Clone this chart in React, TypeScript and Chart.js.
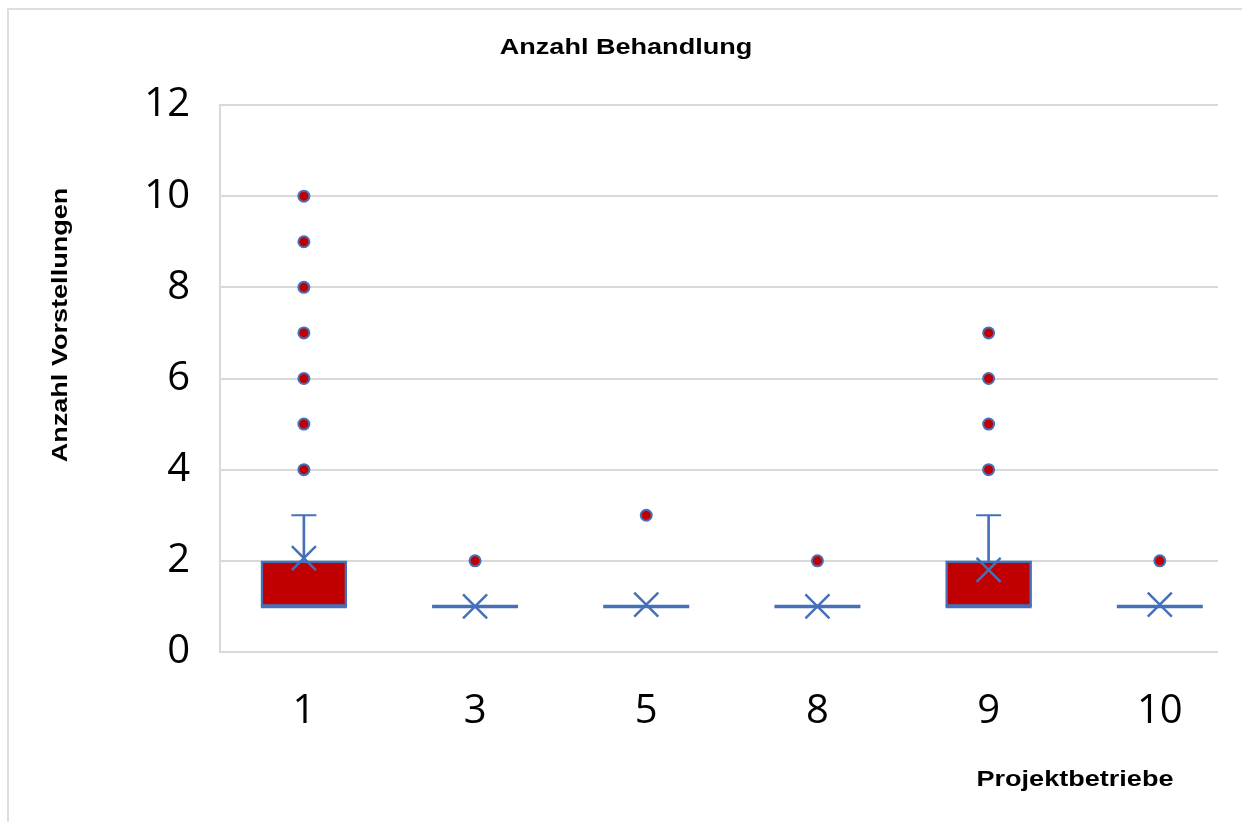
import React, { useEffect, useRef } from "react";
import { Chart, registerables } from "chart.js";

Chart.register(...registerables);

const categories = ["1", "3", "5", "8", "9", "10"];
const q1 = [1, 1, 1, 1, 1, 1];
const q3 = [2, 1, 1, 1, 2, 1];
const median = [1, 1, 1, 1, 1, 1];
const whiskerMin = [1, 1, 1, 1, 1, 1];
const whiskerMax = [3, 1, 1, 1, 3, 1];
const means = [2.06, 1.0, 1.04, 1.0, 1.8, 1.04];
const outliers: number[][] = [
  [4, 5, 6, 7, 8, 9, 10],
  [2],
  [3],
  [2],
  [4, 5, 6, 7],
  [2],
];
const yTicks = [0, 2, 4, 6, 8, 10, 12];

const TITLE = "Anzahl Behandlung";
const Y_TITLE = "Anzahl Vorstellungen";
const X_TITLE = "Projektbetriebe";

const RED = "#c00000";
const BLUE = "#4670b9";
const GRID = "#d9d9d9";

const titlesPlugin = {
  id: "customTitles",
  beforeDraw(chart: any) {
    const ctx = chart.ctx;
    ctx.save();
    ctx.strokeStyle = "#dedede";
    ctx.lineWidth = 2;
    ctx.beginPath();
    ctx.moveTo(8, 822);
    ctx.lineTo(8, 9);
    ctx.lineTo(1242, 9);
    ctx.stroke();
    ctx.restore();
  },
  afterDraw(chart: any) {
    const ctx = chart.ctx;
    const sx = 1.23;
    ctx.save();
    ctx.fillStyle = "#000";
    ctx.font = "bold 22px 'Liberation Sans', Arial, sans-serif";
    ctx.textAlign = "center";
    ctx.textBaseline = "alphabetic";

    ctx.save();
    ctx.translate(626, 54);
    ctx.scale(sx, 1);
    ctx.fillText(TITLE, 0, 0);
    ctx.restore();

    ctx.save();
    ctx.translate(67, 325);
    ctx.rotate(-Math.PI / 2);
    ctx.scale(sx, 1);
    ctx.fillText(Y_TITLE, 0, 0);
    ctx.restore();

    ctx.save();
    ctx.translate(1075, 786);
    ctx.scale(sx, 1);
    ctx.fillText(X_TITLE, 0, 0);
    ctx.restore();

    ctx.restore();
  },
};

export default function App() {
  const ref = useRef<HTMLCanvasElement | null>(null);

  useEffect(() => {
    if (!ref.current) return;
    const boxData = categories.map((_, i) => ({ x: i, y: [q1[i], q3[i]] }));
    const whiskerData = categories.map((_, i) => ({ x: i, y: [q3[i], whiskerMax[i]] }));
    const lowWhiskerData = categories.map((_, i) => ({ x: i, y: [whiskerMin[i], q1[i]] }));
    const medianData = categories.map((_, i) => ({ x: i, y: median[i] }));
    const capData = categories
      .map((_, i) => ({ x: i, y: whiskerMax[i], show: whiskerMax[i] > q3[i] }))
      .filter((d) => d.show)
      .map((d) => ({ x: d.x, y: d.y }));
    const lowCapData = categories
      .map((_, i) => ({ x: i, y: whiskerMin[i], show: whiskerMin[i] < q1[i] }))
      .filter((d) => d.show)
      .map((d) => ({ x: d.x, y: d.y }));
    const meanData = categories.map((_, i) => ({ x: i, y: means[i] }));
    const outlierData: { x: number; y: number }[] = [];
    outliers.forEach((arr, i) => arr.forEach((v) => outlierData.push({ x: i, y: v })));

    const chart = new Chart(ref.current, {
      type: "bar",
      data: {
        datasets: [
          {
            type: "bar",
            label: "box",
            data: boxData as any,
            backgroundColor: RED,
            borderColor: BLUE,
            borderWidth: 2.5,
            borderSkipped: false,
            barThickness: 86,
            grouped: false,
            order: 7,
          } as any,
          {
            type: "bar",
            label: "whisker",
            data: whiskerData as any,
            backgroundColor: BLUE,
            borderWidth: 0,
            barThickness: 2,
            grouped: false,
            order: 6,
          } as any,
          {
            type: "bar",
            label: "lowWhisker",
            data: lowWhiskerData as any,
            backgroundColor: BLUE,
            borderWidth: 0,
            barThickness: 2,
            grouped: false,
            order: 6,
          } as any,
          {
            type: "scatter",
            label: "median",
            data: medianData,
            pointStyle: "line",
            pointRadius: 43,
            borderColor: BLUE,
            pointBorderWidth: 3.5,
            order: 5,
          } as any,
          {
            type: "scatter",
            label: "caps",
            data: [...capData, ...lowCapData],
            pointStyle: "line",
            pointRadius: 12.5,
            borderColor: BLUE,
            pointBorderWidth: 2,
            order: 4,
          } as any,
          {
            type: "scatter",
            label: "mean",
            data: meanData,
            pointStyle: "crossRot",
            pointRadius: 17,
            borderColor: BLUE,
            pointBorderWidth: 2.5,
            order: 3,
          } as any,
          {
            type: "scatter",
            label: "outliers",
            data: outlierData,
            pointStyle: "circle",
            pointRadius: 5.5,
            backgroundColor: RED,
            borderColor: BLUE,
            pointBorderWidth: 2,
            order: 2,
          } as any,
        ],
      },
      options: {
        responsive: false,
        animation: false,
        devicePixelRatio: 1,
        layout: { autoPadding: false, padding: { left: 0, right: 24, top: 105, bottom: 0 } },
        plugins: {
          legend: { display: false },
          tooltip: { enabled: false },
          title: { display: false },
        },
        scales: {
          x: {
            type: "linear",
            offset: false,
            min: -0.49,
            max: 5.34,
            grid: { display: false, drawTicks: false },
            border: { display: false },
            afterBuildTicks: (scale: any) => {
              scale.ticks = categories.map((_, i) => ({ value: i }));
            },
            afterFit: (scale: any) => {
              scale.height = 170;
            },
            ticks: {
              autoSkip: false,
              maxRotation: 0,
              padding: 36,
              color: "#000",
              font: { family: "'Open Sans', sans-serif", size: 40 },
              callback: (v: any) => categories[v as number] ?? "",
            },
          },
          y: {
            type: "linear",
            min: 0,
            max: 12,
            afterBuildTicks: (scale: any) => {
              scale.ticks = yTicks.map((v) => ({ value: v }));
            },
            afterFit: (scale: any) => {
              scale.width = 220;
            },
            grid: { color: GRID, lineWidth: 2, drawTicks: false },
            border: { display: true, color: GRID, width: 2 },
            ticks: {
              padding: 30,
              color: "#000",
              font: { family: "'Open Sans', sans-serif", size: 40 },
            },
          },
        },
      } as any,
      plugins: [titlesPlugin],
    });
    return () => chart.destroy();
  }, []);

  return (
    <div style={{ position: "fixed", left: 0, top: 0, width: 1242, height: 822, background: "#fff" }}>
      <canvas ref={ref} width={1242} height={822} style={{ width: 1242, height: 822, display: "block" }} />
    </div>
  );
}
